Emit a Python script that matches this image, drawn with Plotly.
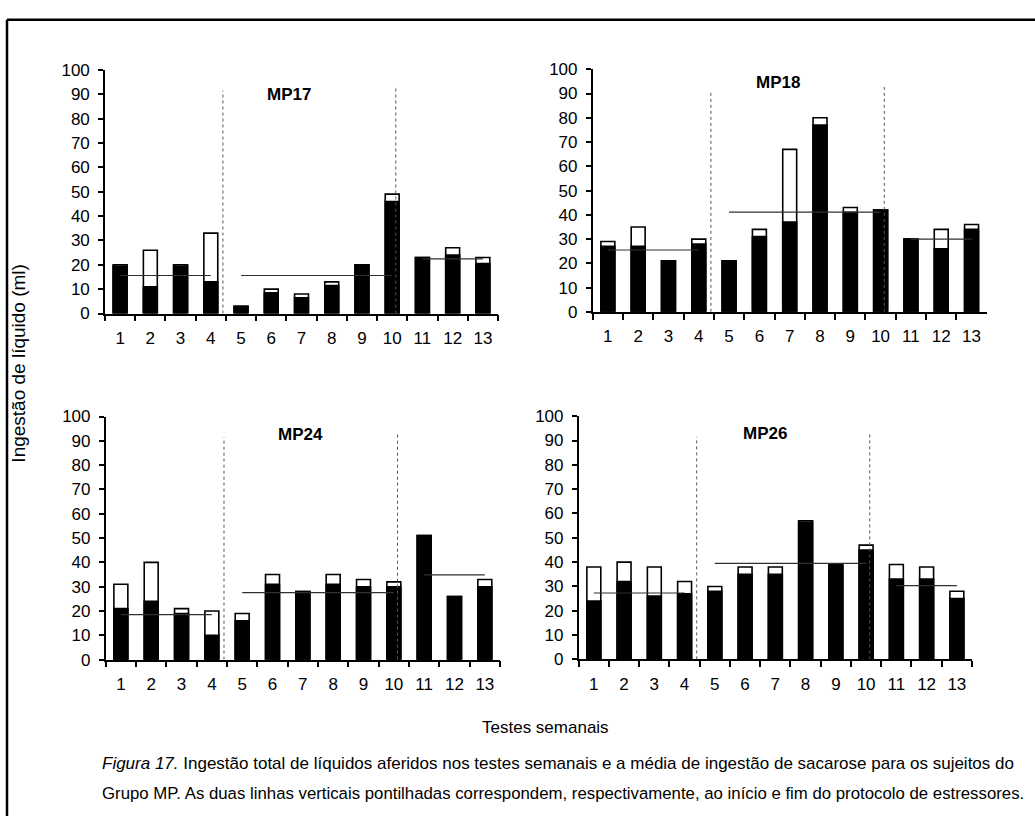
import plotly.graph_objects as go

weeks = ["1", "2", "3", "4", "5", "6", "7", "8", "9", "10", "11", "12", "13"]

subjects = ["MP17", "MP18", "MP24", "MP26"]

mp17_sucrose = [19.5, 11, 19.5, 13, 3, 8.5, 6.5, 11.5, 20, 46, 23, 24, 20.5]
mp17_total = [20, 26, 20, 33, 3, 10, 8, 13, 20, 49, 23, 27, 23]
mp17_means = [15.6, 15.6, 22.4]

mp18_sucrose = [27, 27, 21, 28, 21, 31, 37, 77, 41, 42, 30, 26, 34]
mp18_total = [29, 35, 21, 30, 21, 34, 67, 80, 43, 42, 30, 34, 36]
mp18_means = [25.5, 41.1, 30.0]

mp24_sucrose = [21, 24, 19, 10, 16, 31, 28, 31, 30, 30, 51, 26, 30]
mp24_total = [31, 40, 21, 20, 19, 35, 28, 35, 33, 32, 51, 26, 33]
mp24_means = [18.5, 27.6, 34.9]

mp26_sucrose = [24, 32, 26, 27, 28, 35, 35, 56.5, 38.5, 45, 33, 33, 25]
mp26_total = [38, 40, 38, 32, 30, 38, 38, 57, 39, 47, 39, 38, 28]
mp26_means = [27.3, 39.5, 30.3]

phase_start = ["1", "5", "11"]
phase_end = ["4", "10", "13"]

y_ticks = [0, 10, 20, 30, 40, 50, 60, 70, 80, 90, 100]

FONT = "Liberation Sans, Arial, sans-serif"

W, H = 1035, 826
panels = [
    dict(name="MP17", suc=mp17_sucrose, tot=mp17_total, means=mp17_means,
         px=(105, 498), py=(311.7, 62.3), title_xy=(5.6, 90)),
    dict(name="MP18", suc=mp18_sucrose, tot=mp18_total, means=mp18_means,
         px=(592.7, 986.7), py=(310, 61.7), title_xy=(5.6, 94.6)),
    dict(name="MP24", suc=mp24_sucrose, tot=mp24_total, means=mp24_means,
         px=(105.7, 500), py=(666, 417.1), title_xy=(5.93, 92.4)),
    dict(name="MP26", suc=mp26_sucrose, tot=mp26_total, means=mp26_means,
         px=(578.7, 972), py=(665.7, 416.8), title_xy=(5.66, 92.8)),
]

fig = go.Figure()
shapes = []
annotations = []

for i, p in enumerate(panels):
    k = "" if i == 0 else str(i + 1)
    xa, ya = "x" + k, "y" + k
    fig.add_trace(go.Bar(x=weeks, y=p["tot"], xaxis=xa, yaxis=ya,
                         marker=dict(color="white", line=dict(color="black", width=1.6)),
                         showlegend=False, hoverinfo="skip"))
    fig.add_trace(go.Bar(x=weeks, y=p["suc"], xaxis=xa, yaxis=ya,
                         marker=dict(color="black", line=dict(color="black", width=1.6)),
                         showlegend=False, hoverinfo="skip"))
    for s, e, m in zip(phase_start, phase_end, p["means"]):
        fig.add_trace(go.Scatter(x=[s, e], y=[m, m], xaxis=xa, yaxis=ya, mode="lines",
                                 line=dict(color="#303030", width=1.2),
                                 showlegend=False, hoverinfo="skip"))
    # dotted vertical lines (start / end of stress protocol)
    for xv, top in [(3.4, 91.5), (9.12, 93.6)]:
        shapes.append(dict(type="line", xref=xa, yref=ya, x0=xv, x1=xv, y0=0, y1=top,
                           line=dict(color="#555555", width=1, dash="dot")))
    annotations.append(dict(text="<b>" + p["name"] + "</b>", xref=xa, yref=ya,
                            x=p["title_xy"][0], y=p["title_xy"][1], showarrow=False,
                            xanchor="center", yanchor="middle",
                            font=dict(size=17, color="black", family=FONT)))
    layout_x = dict(domain=[p["px"][0] / W, p["px"][1] / W], type="category",
                    anchor=ya, tickson="boundaries", ticks="outside", ticklen=6,
                    tickwidth=1.5, tickcolor="black", showline=True, linecolor="black",
                    linewidth=1.6, showgrid=False, zeroline=False,
                    tickfont=dict(size=17, color="black", family=FONT),
                    ticklabelstandoff=8,
                    range=[-0.5, 12.5], fixedrange=True)
    layout_y = dict(domain=[1 - p["py"][0] / H, 1 - p["py"][1] / H], anchor=xa,
                    range=[0, 100], tickvals=y_ticks, ticks="outside", ticklen=5,
                    tickwidth=1.5, tickcolor="black", showline=True, linecolor="black",
                    linewidth=1.6, showgrid=False, zeroline=False,
                    ticklabelstandoff=5,
                    tickfont=dict(size=17, color="black", family=FONT), fixedrange=True)
    fig.layout["xaxis" + k] = layout_x
    fig.layout["yaxis" + k] = layout_y

# frame (top and left border)
shapes.append(dict(type="line", xref="paper", yref="paper", x0=7 / W, x1=1,
                   y0=1 - 11 / H, y1=1 - 11 / H, line=dict(color="black", width=2.5)))
shapes.append(dict(type="line", xref="paper", yref="paper", x0=7 / W, x1=7 / W,
                   y0=0, y1=1 - 11 / H, line=dict(color="black", width=2.5)))

annotations.append(dict(text="Ingestão de líquido (ml)", xref="paper", yref="paper",
                        x=19 / W, y=1 - 363 / H, textangle=-90, showarrow=False,
                        xanchor="center", yanchor="middle",
                        font=dict(size=19, color="black", family=FONT)))
annotations.append(dict(text="Testes semanais", xref="paper", yref="paper",
                        x=545 / W, y=1 - 735 / H, showarrow=False,
                        xanchor="center", yanchor="middle",
                        font=dict(size=17, color="black", family=FONT)))
annotations.append(dict(text="<i>Figura 17.</i> Ingestão total de líquidos aferidos nos testes semanais e a média de ingestão de sacarose para os sujeitos do",
                        xref="paper", yref="paper", x=100 / W, y=1 - 772 / H,
                        xanchor="left", yanchor="middle", showarrow=False,
                        font=dict(size=17, color="black", family=FONT)))
annotations.append(dict(text="Grupo MP. As duas linhas verticais pontilhadas correspondem, respectivamente, ao início e fim do protocolo de estressores.",
                        xref="paper", yref="paper", x=100 / W, y=1 - 803 / H,
                        xanchor="left", yanchor="middle", showarrow=False,
                        font=dict(size=16.8, color="black", family=FONT)))

fig.update_layout(width=W, height=H, margin=dict(l=0, r=0, t=0, b=0),
                  paper_bgcolor="white", plot_bgcolor="white",
                  barmode="overlay", bargap=0.54,
                  shapes=shapes, annotations=annotations,
                  font=dict(family=FONT, color="black"))

fig.write_html("out.html", config={"displayModeBar": False},
               post_script="document.body.style.margin='0';document.body.style.overflow='hidden';")
